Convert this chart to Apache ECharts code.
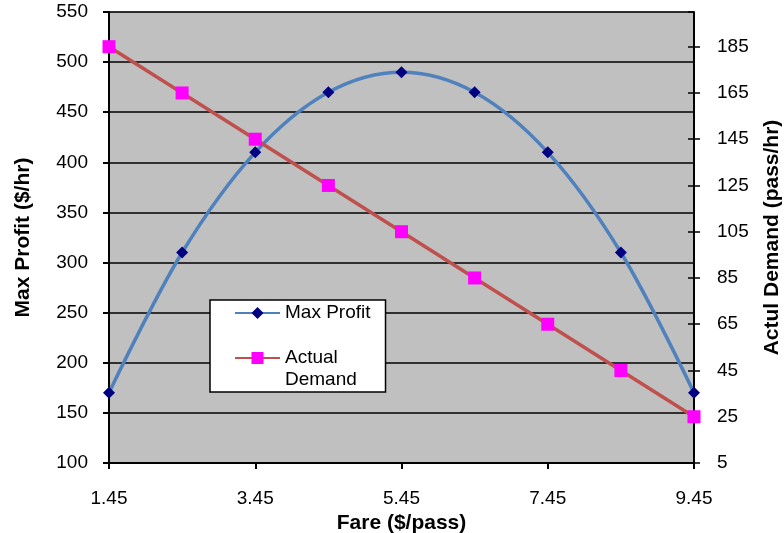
<!DOCTYPE html>
<html>
<head>
<meta charset="utf-8">
<script src="https://cdn.jsdelivr.net/npm/echarts@6/dist/echarts.min.js"></script>
<style>
  html, body { margin: 0; padding: 0; background: #fff; }
  #chart { width: 784px; height: 533px; }
</style>
</head>
<body>
<div id="chart"></div>
<script>
// Fare levels ($/pass)
const fares = [1.45, 2.45, 3.45, 4.45, 5.45, 6.45, 7.45, 8.45, 9.45];
// Maximum profit at each fare ($/hr)
const maxProfit = [170, 310, 410, 470, 490, 470, 410, 310, 170];
// Actual demand at each fare (pass/hr)
const actualDemand = [185, 165, 145, 125, 105, 85, 65, 45, 25];

const FONT = '"Liberation Sans", Arial, sans-serif';
const nameStyle = { fontFamily: FONT, fontSize: 21, fontWeight: 'bold', color: '#000' };
const tickText = { fontFamily: FONT, fontSize: 19, color: '#000' };

const chart = echarts.init(document.getElementById('chart'), null, { renderer: 'canvas' });

chart.setOption({
  animation: false,
  backgroundColor: '#ffffff',
  textStyle: { fontFamily: FONT },
  grid: {
    left: 109, right: 90, top: 12, bottom: 70,
    outerBoundsMode: 'none',
    containLabel: false,
    show: true,
    backgroundColor: '#c0c0c0',
    borderColor: '#808080',
    borderWidth: 1
  },
  legend: {
    orient: 'vertical',
    left: 210,
    top: 300,
    padding: [2, 15, 1, 24],
    itemWidth: 45,
    itemHeight: 15,
    itemGap: 1,
    backgroundColor: '#ffffff',
    borderColor: '#000000',
    borderWidth: 1.5,
    textStyle: { fontFamily: FONT, fontSize: 19, color: '#000', lineHeight: 22 },
    // the two-line entry is padded with a blank line so its icon sits beside "Actual"
    formatter: name => name === 'Actual Demand' ? ' \nActual\nDemand' : name,
    data: ['Max Profit', 'Actual Demand']
  },
  xAxis: {
    type: 'value',
    min: 1.45,
    max: 9.45,
    interval: 2,
    name: 'Fare ($/pass)',
    nameLocation: 'middle',
    nameGap: 46,
    nameTextStyle: nameStyle,
    axisLine: { lineStyle: { color: '#000', width: 2 } },
    axisTick: { show: true, length: 6, lineStyle: { color: '#000', width: 2 } },
    axisLabel: Object.assign({ margin: 26, formatter: v => v.toFixed(2) }, tickText),
    splitLine: { show: false }
  },
  yAxis: [
    {
      type: 'value',
      position: 'left',
      min: 100,
      max: 550,
      interval: 50,
      name: 'Max Profit ($/hr)',
      nameLocation: 'middle',
      nameRotate: 90,
      nameGap: 75,
      nameTextStyle: nameStyle,
      axisLine: { show: true, lineStyle: { color: '#000', width: 2 } },
      axisTick: { show: true, length: 6, lineStyle: { color: '#000', width: 2 } },
      axisLabel: Object.assign({ margin: 21 }, tickText),
      splitLine: { show: true, lineStyle: { color: '#000', width: 1.5 } }
    },
    {
      type: 'value',
      position: 'right',
      min: 5,
      max: 200,
      interval: 20,
      name: 'Actul Demand (pass/hr)',
      nameLocation: 'middle',
      nameRotate: 90,
      nameGap: 68,
      nameTextStyle: nameStyle,
      axisLine: { show: true, lineStyle: { color: '#000', width: 2 } },
      axisTick: { show: true, length: 6, lineStyle: { color: '#000', width: 1.5 } },
      axisLabel: Object.assign({ margin: 23, showMaxLabel: false }, tickText),
      splitLine: { show: false }
    },
    {
      // inward half of the right axis' crossing tick marks
      type: 'value',
      position: 'right',
      min: 5,
      max: 200,
      interval: 20,
      axisLine: { show: false },
      axisTick: { show: true, inside: true, length: 6, lineStyle: { color: '#000', width: 1.5 } },
      axisLabel: { show: false },
      splitLine: { show: false }
    }
  ],
  series: [
    {
      name: 'Max Profit',
      type: 'line',
      yAxisIndex: 0,
      smooth: 0.35,
      data: fares.map((f, i) => [f, maxProfit[i]]),
      lineStyle: { color: '#4f81bd', width: 3.5 },
      itemStyle: { color: '#000080', borderWidth: 0 },
      symbol: 'diamond',
      symbolSize: 12,
      z: 3
    },
    {
      name: 'Actual Demand',
      type: 'line',
      yAxisIndex: 1,
      data: fares.map((f, i) => [f, actualDemand[i]]),
      lineStyle: { color: '#c0504d', width: 3.5 },
      itemStyle: { color: '#ff00ff', borderWidth: 0 },
      symbol: 'rect',
      symbolSize: 13,
      z: 4
    }
  ]
});
</script>
</body>
</html>
